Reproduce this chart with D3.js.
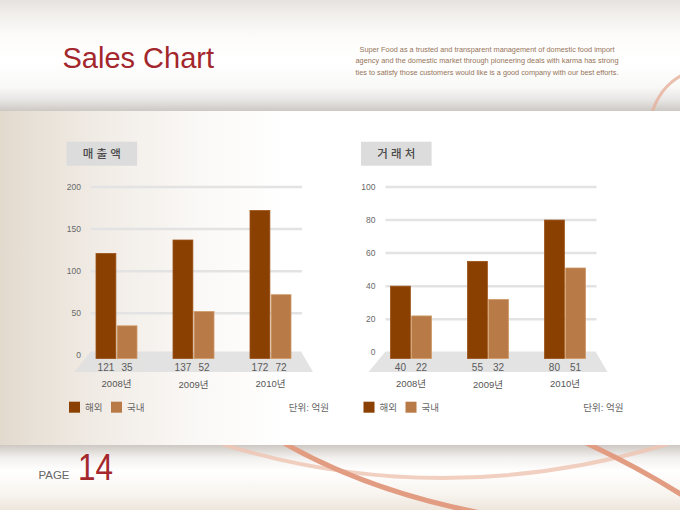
<!DOCTYPE html>
<html lang="ko">
<head>
<meta charset="utf-8">
<title>Sales Chart</title>
<script src="https://cdn.jsdelivr.net/npm/d3@7/dist/d3.min.js"></script>
<style>
    html, body { margin: 0; padding: 0; background: #fff; }
    svg { display: block; font-family: "Liberation Sans", Arial, "Noto Sans CJK KR", sans-serif; }
</style>
</head>
<body>
<svg id="slide" width="680" height="510"></svg>
<script>
(function () {
    'use strict';

    // 데이터
    var years = ['2008년', '2009년', '2010년'];
    var seriesNames = ['해외', '국내'];
    var salesOverseas = [121, 137, 172];
    var salesDomestic = [35, 52, 72];
    var clientOverseas = [40, 55, 80];
    var clientDomestic = [22, 32, 51];
    var salesTicks = [0, 50, 100, 150, 200];
    var clientTicks = [0, 20, 40, 60, 80, 100];
    var introLines = [
        'Super Food as a trusted and transparent management of domestic food import',
        'agency and the domestic market through pioneering deals with karma has strong',
        'ties to satisfy those customers would like is a good company with our best efforts.'
    ];

    var COLORS = { '해외': '#8a4000', '국내': '#b87a46' };
    var STROKES = { '해외': '#9c5218', '국내': '#cf9a68' };
    var RED = '#a3272c';

    var svg = d3.select('#slide');
    var defs = svg.append('defs');

    /**
     * 세로/가로 그라디언트 정의 헬퍼
     */
    function gradient(id, vertical, stops) {
        var lg = defs.append('linearGradient')
            .attr('id', id)
            .attr('x1', 0).attr('y1', 0)
            .attr('x2', vertical ? 0 : 1).attr('y2', vertical ? 1 : 0);
        stops.forEach(function (s) {
            lg.append('stop').attr('offset', s[0]).attr('stop-color', s[1]);
        });
    }

    function drawBackground() {
        gradient('hdr', true, [[0, '#e6e2de'], [0.12, '#f1eeeb'], [0.32, '#fcfbfa'], [0.55, '#ffffff'],
            [0.78, '#f9f9f8'], [0.9, '#e8e6e4'], [1, '#ccc8c4']]);
        gradient('panel', false, [[0, '#e2d9cd'], [0.05, '#e8e1d7'], [0.15, '#f1ece6'], [0.3, '#fbf9f7'], [0.42, '#ffffff']]);
        gradient('foot', true, [[0, '#cdc8c3'], [0.2, '#f3f1ef'], [0.4, '#ffffff'], [0.75, '#f8f4ef'], [1, '#eee6dc']]);

        svg.append('rect').attr('width', 680).attr('height', 510).attr('fill', '#fff');
        svg.append('rect').attr('width', 680).attr('height', 111).attr('fill', 'url(#hdr)');
        svg.append('rect').attr('y', 111).attr('width', 680).attr('height', 334).attr('fill', 'url(#panel)');
        svg.append('rect').attr('y', 445).attr('width', 680).attr('height', 65).attr('fill', 'url(#foot)');

        defs.append('clipPath').attr('id', 'clipHdr')
            .append('rect').attr('width', 680).attr('height', 111);
        defs.append('clipPath').attr('id', 'clipFoot')
            .append('rect').attr('y', 445).attr('width', 680).attr('height', 65);

        // 장식 곡선
        svg.append('path')
            .attr('clip-path', 'url(#clipHdr)')
            .attr('d', 'M652,113 Q660,86 684,74')
            .attr('fill', 'none').attr('stroke', '#e6b09b').attr('stroke-width', 3).attr('opacity', 0.8);

        var foot = svg.append('g').attr('clip-path', 'url(#clipFoot)');
        foot.append('path')
            .attr('d', 'M222,444 Q440,512 668,444')
            .attr('fill', 'none').attr('stroke', '#efc4b2').attr('stroke-width', 4).attr('opacity', 0.8);
        foot.append('path')
            .attr('d', 'M284,443 Q370,492 486,514')
            .attr('fill', 'none').attr('stroke', '#e29c82').attr('stroke-width', 5);
        foot.append('path')
            .attr('d', 'M586,443 Q640,468 690,500')
            .attr('fill', 'none').attr('stroke', '#e29c82').attr('stroke-width', 5);
    }

    function drawHeader() {
        svg.append('text')
            .attr('x', 62.5).attr('y', 68.3)
            .attr('font-size', 29)
            .attr('fill', RED)
            .text('Sales Chart');

        svg.append('g').selectAll('text')
            .data(introLines)
            .enter()
            .append('text')
            .attr('x', 487)
            .attr('y', function (d, i) { return 51.5 + i * 11.6; })
            .attr('text-anchor', 'middle')
            .attr('font-size', 7.6)
            .attr('fill', '#967458')
            .attr('textLength', function (d, i) { return i === 0 ? 255 : 263; })
            .attr('lengthAdjust', 'spacingAndGlyphs')
            .text(function (d) { return d; });

        svg.append('text')
            .attr('x', 38.5).attr('y', 478.5)
            .attr('font-size', 10.5)
            .attr('fill', '#666')
            .attr('textLength', 31)
            .attr('lengthAdjust', 'spacingAndGlyphs')
            .text('PAGE');

        svg.append('text')
            .attr('x', 78).attr('y', 479.5)
            .attr('font-size', 37)
            .attr('fill', RED)
            .attr('textLength', 35)
            .attr('lengthAdjust', 'spacingAndGlyphs')
            .text('14');
    }

    /**
     * 3D 느낌의 바닥이 있는 묶은 세로 막대 차트
     */
    function drawChart(opt) {
        var g = svg.append('g');
        var x0 = d3.scaleBand().domain(years).range([opt.left, opt.left + 231]);
        var x1 = d3.scaleBand().domain(seriesNames).range([0, 41]).paddingInner(0.06);
        var y = d3.scaleLinear().domain([0, opt.max]).range([opt.zeroY, 187]);
        var gx0 = opt.left + 13;
        var gx1 = opt.left + 224;
        var floorTop = 351.5, floorBottom = 372, barBase = 358.5;

        // 제목 박스
        g.append('rect')
            .attr('x', gx0 - 24.5).attr('y', 141.7)
            .attr('width', 70.6).attr('height', 24)
            .attr('fill', '#dcdcdc');
        g.append('text')
            .attr('x', gx0 - 24.5 + 35.3).attr('y', 153.9)
            .attr('dy', '0.35em')
            .attr('text-anchor', 'middle')
            .attr('font-family', '"Noto Sans CJK KR", sans-serif')
            .attr('font-size', 11.5)
            .attr('font-weight', 500)
            .attr('fill', '#4a4a4a')
            .text(opt.title);

        // 눈금선
        g.append('g').selectAll('line')
            .data(opt.ticks.filter(function (t) { return t > 0; }))
            .enter()
            .append('line')
            .attr('x1', gx0).attr('x2', gx1)
            .attr('y1', function (d) { return y(d); })
            .attr('y2', function (d) { return y(d); })
            .attr('stroke', '#e3e3e3')
            .attr('stroke-width', 2.5);

        g.append('g').selectAll('text')
            .data(opt.ticks)
            .enter()
            .append('text')
            .attr('x', gx0 - 10)
            .attr('y', function (d) { return y(d); })
            .attr('dy', '0.35em')
            .attr('text-anchor', 'end')
            .attr('font-size', 8.5)
            .attr('fill', '#6a6a6a')
            .text(function (d) { return d; });

        // 바닥
        g.append('polygon')
            .attr('points', [[gx0, floorTop], [gx1 - 1, floorTop], [gx1 + 11, floorBottom], [gx0 - 17, floorBottom]].join(' '))
            .attr('fill', '#e0e0e0')
            .attr('opacity', 0.9);

        var bars = [];
        years.forEach(function (yr, i) {
            bars.push({ year: yr, series: '해외', value: opt.overseas[i] });
            bars.push({ year: yr, series: '국내', value: opt.domestic[i] });
        });

        function barX(d) {
            return x0(d.year) + (x0.bandwidth() - 41) / 2 + x1(d.series);
        }

        g.append('g').selectAll('rect')
            .data(bars)
            .enter()
            .append('rect')
            .attr('x', barX)
            .attr('y', function (d) { return y(d.value); })
            .attr('width', x1.bandwidth())
            .attr('height', function (d) { return barBase - y(d.value); })
            .attr('fill', function (d) { return COLORS[d.series]; })
            .attr('stroke', function (d) { return STROKES[d.series]; })
            .attr('stroke-width', 0.8);

        g.append('g').selectAll('text')
            .data(bars)
            .enter()
            .append('text')
            .attr('x', function (d) { return barX(d) + x1.bandwidth() / 2; })
            .attr('y', 371)
            .attr('text-anchor', 'middle')
            .attr('font-size', 10)
            .attr('fill', '#5a5a5a')
            .text(function (d) { return d.value; });

        g.append('g').selectAll('text')
            .data(years)
            .enter()
            .append('text')
            .attr('x', function (d) { return x0(d) + x0.bandwidth() / 2; })
            .attr('y', function (d, i) { return i === 1 ? 388 : 386.5; })
            .attr('text-anchor', 'middle')
            .attr('font-size', 9.5)
            .attr('fill', '#555')
            .text(function (d) { return d; });

        // 범례
        var legend = g.append('g').selectAll('g')
            .data(seriesNames)
            .enter()
            .append('g')
            .attr('transform', function (d, i) {
                return 'translate(' + (gx0 - 22 + i * 42) + ',401.7)';
            });
        legend.append('rect')
            .attr('width', 11).attr('height', 11)
            .attr('fill', function (d) { return COLORS[d]; });
        legend.append('text')
            .attr('x', 16).attr('y', 5.5)
            .attr('dy', '0.35em')
            .attr('font-size', 9.5)
            .attr('fill', '#666')
            .text(function (d) { return d; });

        g.append('text')
            .attr('x', gx1 + 27).attr('y', 407.2)
            .attr('dy', '0.35em')
            .attr('text-anchor', 'end')
            .attr('font-size', 9.5)
            .attr('fill', '#666')
            .text('단위: 억원');
    }

    drawBackground();
    drawHeader();

    drawChart({
        title: '매 출 액',
        left: 78,
        zeroY: 355.3,
        max: 200,
        ticks: salesTicks,
        overseas: salesOverseas,
        domestic: salesDomestic
    });

    drawChart({
        title: '거 래 처',
        left: 372.5,
        zeroY: 352.3,
        max: 100,
        ticks: clientTicks,
        overseas: clientOverseas,
        domestic: clientDomestic
    });
})();
</script>
</body>
</html>
